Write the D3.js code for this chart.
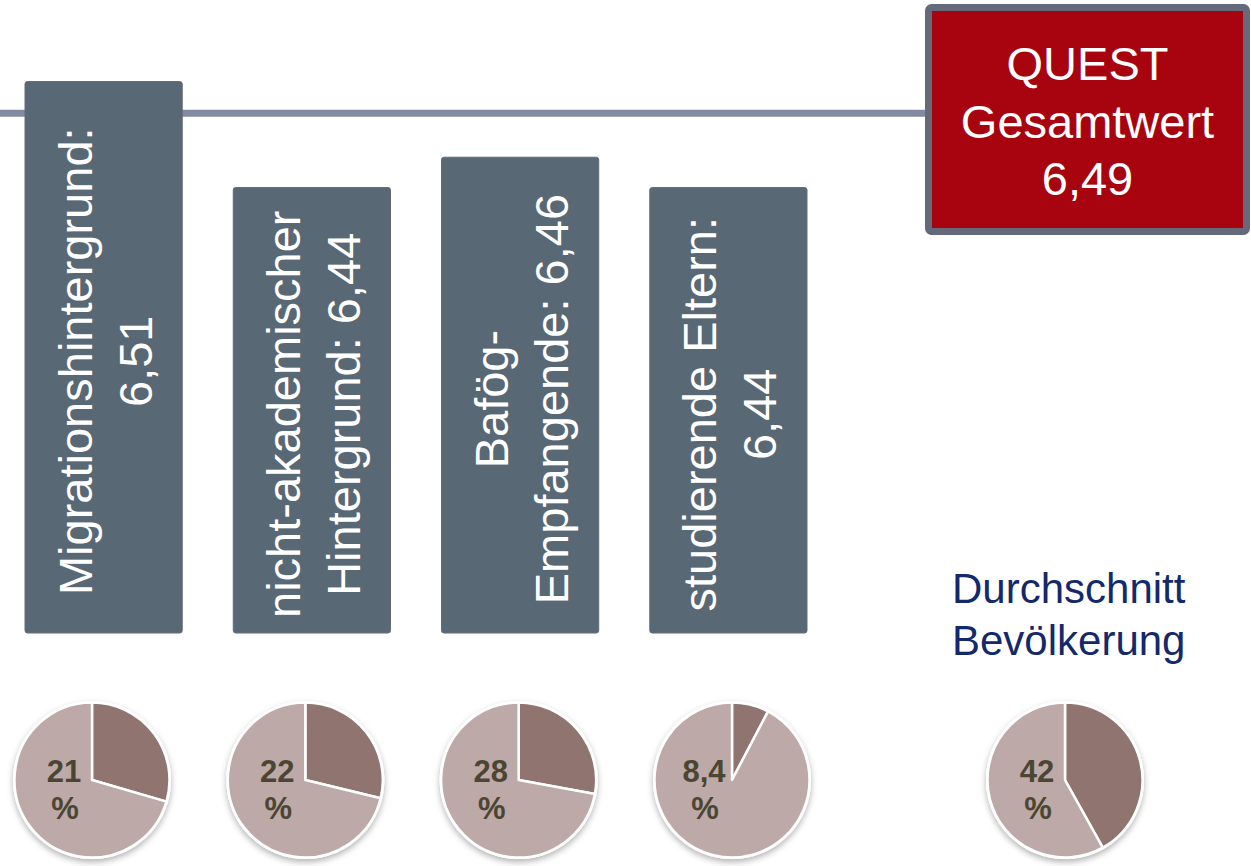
<!DOCTYPE html>
<html>
<head>
<meta charset="utf-8">
<script src="https://cdn.jsdelivr.net/npm/d3@7"></script>
<style>
  body { margin: 0; background: #fff; }
  svg { display: block; font-family: "Liberation Sans", Arial, sans-serif; }
</style>
</head>
<body>
<svg id="chart" width="1251" height="866"></svg>
<script>
// QUEST scores by student group + share pies

var groups = ["Migration", "nichtakad", "Bafoeg", "Eltern"];
var groupLines = [
    ["Migrationshintergrund:", "6,51"],
    ["nicht-akademischer", "Hintergrund: 6,44"],
    ["Bafög-", "Empfangende: 6,46"],
    ["studierende Eltern:", "6,44"]
];
var scores = [6.51, 6.44, 6.46, 6.44];

var totalScore = 6.49;
var totalLines = ["QUEST", "Gesamtwert", "6,49"];

// slice sizes as drawn, and the labels printed on them
var pieShares = [29.5, 28.8, 27.9, 7.7];
var pieLabels = ["21", "22", "28", "8,4"];
var avgShare = 41.9;
var avgLabel = "42";
var avgLines = ["Durchschnitt", "Bevölkerung"];

var svg = d3.select("#chart");

var barBottom = 633,
    boxX = 925, boxW = 325, boxY = 4, boxH = 231,
    pieY = 780, pieR = 77.5;

var defs = svg.append("defs");
defs.append("filter")
    .attr("id", "shadow")
    .attr("x", "-20%").attr("y", "-20%")
    .attr("width", "140%").attr("height", "150%")
    .append("feDropShadow")
    .attr("dx", 0).attr("dy", 3)
    .attr("stdDeviation", 3)
    .attr("flood-color", "#000")
    .attr("flood-opacity", 0.3);

var x = d3.scaleBand()
    .domain(groups)
    .range([25, 807])
    .paddingInner(0.245)
    .paddingOuter(0);

var y = d3.scaleLinear()
    .domain([6.44, 6.51])
    .range([187.5, 81.5]);

// reference line at the overall value
svg.append("line")
    .attr("x1", 0)
    .attr("x2", boxX + 4)
    .attr("y1", y(totalScore) + 1.5)
    .attr("y2", y(totalScore) + 1.5)
    .attr("stroke", "#818aa0")
    .attr("stroke-width", 7);

var bars = svg.selectAll("g.bar")
    .data(groups)
    .enter().append("g")
    .attr("class", "bar");

bars.append("rect")
    .attr("x", function(d) { return x(d); })
    .attr("y", function(d, i) { return y(scores[i]); })
    .attr("width", x.bandwidth())
    .attr("height", function(d, i) { return barBottom - y(scores[i]); })
    .attr("rx", 2.5)
    .attr("fill", "#586874")
    .attr("stroke", "#646c7c")
    .attr("stroke-width", 1);

bars.each(function(d, i) {
    var cx = x(d) + x.bandwidth() / 2,
        cy = (y(scores[i]) + barBottom) / 2 + 4;
    var t = d3.select(this).append("text")
        .attr("transform", "translate(" + cx + "," + cy + ") rotate(-90)")
        .attr("text-anchor", "middle")
        .attr("fill", "#fff")
        .attr("font-size", 47);
    groupLines[i].forEach(function(line, j) {
        t.append("tspan")
            .attr("x", 0)
            .attr("y", j == 0 ? -12 : 48)
            .text(line);
    });
});

// overall box
svg.append("rect")
    .attr("x", boxX + 3.5)
    .attr("y", boxY + 3.5)
    .attr("width", boxW - 7)
    .attr("height", boxH - 7)
    .attr("rx", 3)
    .attr("fill", "#a8040f")
    .attr("stroke", "#646a7a")
    .attr("stroke-width", 7);

svg.append("g")
    .selectAll("text")
    .data(totalLines)
    .enter().append("text")
    .attr("x", boxX + boxW / 2)
    .attr("y", function(d, i) { return 80 + i * 57.5; })
    .attr("text-anchor", "middle")
    .attr("fill", "#fff")
    .attr("font-size", 47)
    .text(function(d) { return d; });

svg.append("g")
    .selectAll("text")
    .data(avgLines)
    .enter().append("text")
    .attr("x", 952)
    .attr("y", function(d, i) { return 603 + i * 52; })
    .attr("fill", "#14296b")
    .attr("font-size", 42)
    .text(function(d) { return d; });

// pies
var px = d3.scalePoint()
    .domain(groups)
    .range([92, 732]);

var pie = d3.pie().sort(null).value(function(d) { return d; });
var arc = d3.arc().innerRadius(0).outerRadius(pieR);

var pieData = groups.map(function(g, i) {
    return { cx: px(g), share: pieShares[i], label: pieLabels[i] };
});
pieData.push({ cx: 1065, share: avgShare, label: avgLabel });

var pies = svg.selectAll("g.pie")
    .data(pieData)
    .enter().append("g")
    .attr("class", "pie")
    .attr("transform", function(d) { return "translate(" + d.cx + "," + pieY + ")"; });

pies.append("circle")
    .attr("r", pieR + 1.5)
    .attr("fill", "#fff")
    .attr("filter", "url(#shadow)");

pies.selectAll("path")
    .data(function(d) { return pie([d.share, 100 - d.share]); })
    .enter().append("path")
    .attr("d", arc)
    .attr("fill", function(d, i) { return i == 0 ? "#8f7470" : "#bca9a8"; })
    .attr("stroke", "#fff")
    .attr("stroke-width", 2.5)
    .attr("stroke-linejoin", "round");

pies.append("text")
    .attr("text-anchor", "middle")
    .attr("fill", "#4b4632")
    .attr("font-weight", "bold")
    .attr("font-size", 31)
    .each(function(d) {
        var t = d3.select(this);
        t.append("tspan").attr("x", -28).attr("y", 2).text(d.label);
        t.append("tspan").attr("x", -27).attr("y", 39).text("%");
    });
</script>
</body>
</html>
